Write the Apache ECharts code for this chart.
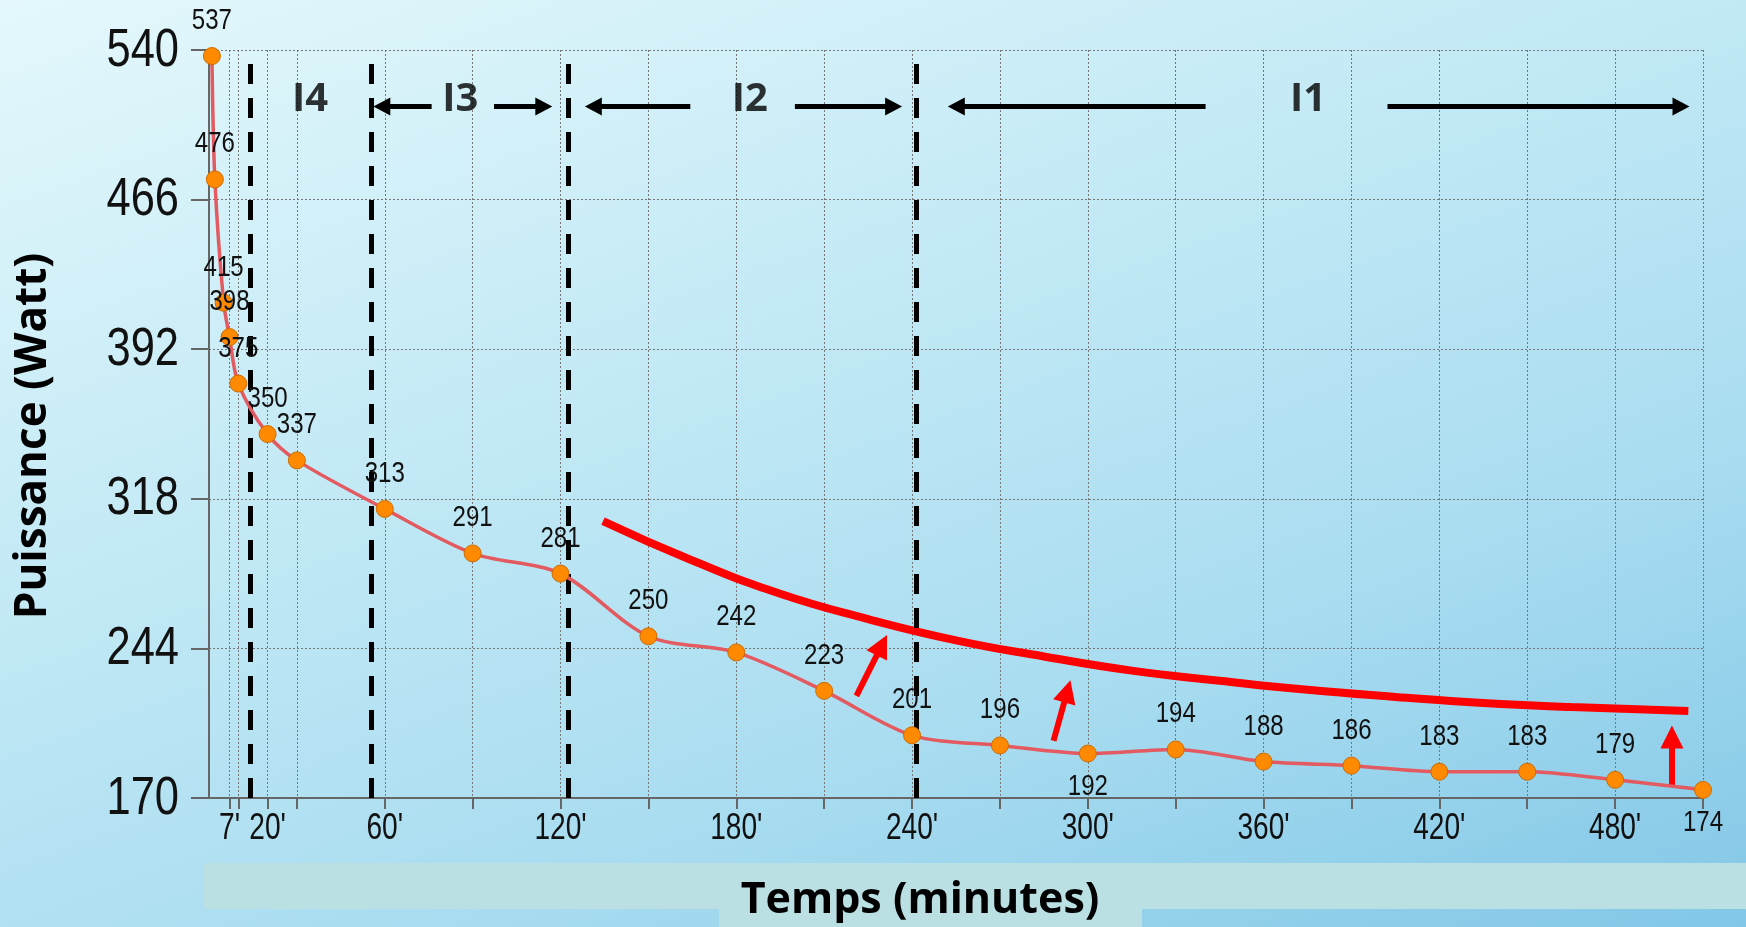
<!DOCTYPE html>
<html><head><meta charset="utf-8">
<script src="https://cdn.jsdelivr.net/npm/echarts@6/dist/echarts.min.js"></script>
<style>
html,body{margin:0;padding:0;width:1746px;height:927px;overflow:hidden;}
body{background:linear-gradient(160deg,#e4f8fc 0%,#c6ebf6 35%,#a8dcf0 70%,#82c7e7 100%);}
#c{width:1746px;height:927px;}
</style></head>
<body><div id="c"></div>
<script>
// ---- data ----
const minutes = [1, 2, 5, 7, 10, 20, 30, 60, 90, 120, 150, 180, 210, 240, 270, 300, 330, 360, 390, 420, 450, 480, 510];
const watts   = [537, 476, 415, 398, 375, 350, 337, 313, 291, 281, 250, 242, 223, 201, 196, 192, 194, 188, 186, 183, 183, 179, 174];
const labelBelowIdx = [15, 22];
const yTicks = [170, 244, 318, 392, 466, 540];
const xMin = 0, xMax = 510;
const xTickValues = [7, 10, 20, 30, 60, 90, 120, 150, 180, 210, 240, 270, 300, 330, 360, 390, 420, 450, 480, 510];
const xLabelValues = [7, 20, 60, 120, 180, 240, 300, 360, 420, 480];
const phaseBounds = [14, 55.5, 122.5, 241.5];
const phaseNames = ['I4', 'I3', 'I2', 'I1'];
const phaseNameX = [34.5, 85.8, 184.6, 375.2];
const phaseNameY = 515.5;
const phaseArrowY = 512;
// [tailX, headX]
const phaseArrows = [[76, 59], [97.3, 114.3], [164.3, 131.2], [200, 233.7], [340.2, 255.1], [402.3, 502.5]];
const envelope = [[134.5, 307], [165, 287.5], [195, 271], [225, 258.5], [255, 248], [285, 240], [315, 233], [345, 228], [375, 223.5], [405, 220], [435, 217], [465, 215], [505, 213]];
// [tail, head]
const redArrows = [[[221, 220.5], [229.7, 245.6]], [[288.3, 198.3], [293, 222.8]], [[499.4, 175.9], [499.4, 200.2]]];

const SANS = '"Liberation Sans", Arial, sans-serif';
const BOLD = '"Open Sans", "Liberation Sans", sans-serif';

const chart = echarts.init(document.getElementById('c'), null, {renderer: 'canvas'});

const pointData = minutes.map((m, i) => [m, watts[i], labelBelowIdx.includes(i) ? 1 : 0]);

function condensedText(x, y, text, size, sx, align, vAlign) {
  return {
    type: 'text', x: x, y: y, scaleX: sx, scaleY: 1,
    style: {text: text, fontFamily: SANS, fontSize: size, fill: '#111', align: align, verticalAlign: vAlign}
  };
}

const option = {
  backgroundColor: 'transparent',
  animation: false,
  graphic: [
    {type: 'rect', shape: {x: 204, y: 863, width: 1542, height: 46}, style: {fill: '#bbe0e3'}, z: -10},
    {type: 'rect', shape: {x: 719, y: 905, width: 423, height: 22}, style: {fill: '#bbe0e3'}, z: -10}
  ],
  grid: {left: 209, right: 43, top: 50, bottom: 128, containLabel: false},
  xAxis: {
    type: 'value', min: xMin, max: xMax,
    name: 'Temps (minutes)', nameLocation: 'middle', nameGap: 81,
    nameTextStyle: {fontFamily: BOLD, fontWeight: 'bold', fontSize: 43, color: '#000', padding: [0, 72, 0, 0]},
    axisLine: {show: true, onZero: false, lineStyle: {color: '#666', width: 2}},
    axisTick: {show: true, length: 11, customValues: xTickValues, lineStyle: {color: '#666', width: 2}},
    axisLabel: {show: false},
    splitLine: {show: true, lineStyle: {color: '#777', width: 1, type: [2, 2]}}
  },
  yAxis: {
    type: 'value', min: yTicks[0], max: yTicks[yTicks.length - 1], interval: yTicks[1] - yTicks[0],
    name: 'Puissance (Watt)', nameLocation: 'middle', nameGap: 154, nameRotate: 90,
    nameTextStyle: {fontFamily: BOLD, fontWeight: 'bold', fontSize: 44, color: '#000', padding: [0, 24, 0, 0]},
    axisLine: {show: true, lineStyle: {color: '#666', width: 2}},
    axisTick: {show: true, length: 18, lineStyle: {color: '#666', width: 2}},
    axisLabel: {show: false},
    splitLine: {show: true, lineStyle: {color: '#777', width: 1, type: [2, 2]}}
  },
  series: [
    {
      type: 'line', data: pointData.map(d => [d[0], d[1]]), smooth: 0.3, z: 5,
      symbol: 'circle', symbolSize: 17,
      lineStyle: {color: '#e35a60', width: 3.5},
      itemStyle: {color: '#ff8a00', borderColor: '#cc6a00', borderWidth: 1},
      label: {show: false},
      markLine: {
        silent: true, symbol: ['none', 'none'],
        label: {show: false},
        lineStyle: {color: '#000', width: 5, type: [20, 14]},
        data: phaseBounds.map(x => ({xAxis: x}))
      }
    },
    {
      // value labels of the points
      type: 'custom', clip: false, z: 7, silent: true,
      data: pointData,
      renderItem: (params, api) => {
        const p = api.coord([api.value(0), api.value(1)]);
        const below = api.value(2) === 1;
        return condensedText(p[0], p[1] + (below ? 33 : -35), String(api.value(1)), 29, 0.83, 'center', 'middle');
      }
    },
    {
      // y axis tick labels
      type: 'custom', clip: false, z: 7, silent: true,
      data: yTicks.map(v => [xMin, v]),
      renderItem: (params, api) => {
        const p = api.coord([api.value(0), api.value(1)]);
        return condensedText(p[0] - 30, p[1] + 1, String(api.value(1)), 53, 0.82, 'right', 'middle');
      }
    },
    {
      // x axis tick labels
      type: 'custom', clip: false, z: 7, silent: true,
      data: xLabelValues.map(v => [v, yTicks[0]]),
      renderItem: (params, api) => {
        const p = api.coord([api.value(0), api.value(1)]);
        return condensedText(p[0], p[1] + 31, api.value(0) + "'", 36, 0.78, 'center', 'middle');
      }
    },
    {
      type: 'line', data: envelope, smooth: 0.5, symbol: 'none', z: 4,
      lineStyle: {color: '#ff0000', width: 8},
      markLine: {
        silent: true, symbol: ['none', 'triangle'], symbolSize: [23, 23],
        label: {show: false},
        lineStyle: {color: '#ff0000', width: 6, type: 'solid'},
        data: redArrows.map(a => [{coord: a[0]}, {coord: a[1]}])
      }
    },
    {
      type: 'scatter', symbolSize: 0, z: 6,
      data: phaseNames.map((n, i) => ({value: [phaseNameX[i], phaseNameY], name: n})),
      label: {show: true, position: 'inside', formatter: p => p.name, fontFamily: BOLD, fontWeight: 'bold', fontSize: 40, color: '#000'},
      markLine: {
        silent: true, symbol: ['none', 'triangle'], symbolSize: [18, 17],
        label: {show: false},
        lineStyle: {color: '#000', width: 5, type: 'solid'},
        data: phaseArrows.map(a => [{coord: [a[0], phaseArrowY]}, {coord: [a[1], phaseArrowY]}])
      }
    }
  ]
};
chart.setOption(option);
</script>
</body></html>
